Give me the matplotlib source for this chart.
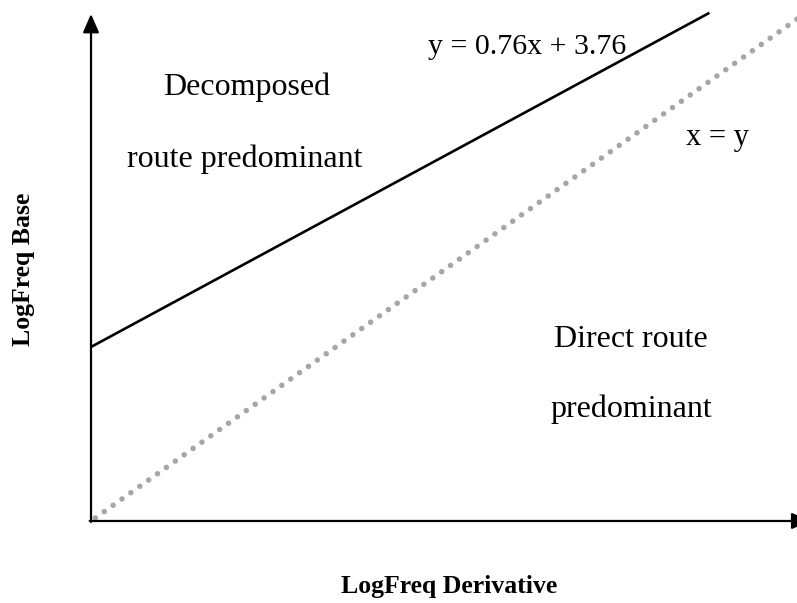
import matplotlib.pyplot as plt

# Lines (data units)
fit_x = [0, 9.5]          # y = 0.76x + 3.76
fit_y = [3.76, 10.98]
diag_x = [0, 10.9]        # x = y
diag_y = [0, 10.9]

x_label = 'LogFreq Derivative'
y_label = 'LogFreq Base'
fit_text = 'y = 0.76x + 3.76'
diag_text = 'x = y'
upper_text = ['Decomposed', 'route predominant']
lower_text = ['Direct route', 'predominant']

W, H = 797, 603
fig = plt.figure(figsize=(W / 100, H / 100), dpi=100)
ax = fig.add_axes([0, 0, 1, 1])
ax.set_xlim(-1.398, 10.845)
ax.set_ylim(-1.772, 11.257)
ax.axis('off')

plt.rcParams['font.family'] = ['Liberation Serif', 'DejaVu Serif']

# x = y dotted line
ax.plot(diag_x, diag_y, color='#a6a6a6', lw=4.0,
        linestyle=(1.0, (0.001, 1.96)), dash_capstyle='round', zorder=2)
# fitted line
ax.plot(fit_x, fit_y, color='black', lw=1.9, solid_capstyle='butt', zorder=3)

# axes with arrow heads
arrow = dict(arrowstyle='-|>,head_length=0.8,head_width=0.35', lw=1.6,
             color='black', mutation_scale=14, shrinkA=0, shrinkB=0)
ax.annotate('', xy=(0, 10.955), xytext=(0, -0.02), arrowprops=arrow,
            annotation_clip=False)
ax.annotate('', xy=(11.05, 0), xytext=(-0.02, 0), arrowprops=arrow,
            annotation_clip=False)


def put(x, y, s, **kw):
    # place text by pixel position in the 797x603 image
    fig.text(x / W, 1 - y / H, s, **kw)


put(527, 54, fit_text, fontsize=21.5, ha='center', va='baseline')
put(718, 145, diag_text, fontsize=22, ha='center', va='baseline')
put(247, 95, upper_text[0], fontsize=23, ha='center', va='baseline')
put(245, 167, upper_text[1], fontsize=23, ha='center', va='baseline')
put(631, 347, lower_text[0], fontsize=23, ha='center', va='baseline')
put(631, 417, lower_text[1], fontsize=23, ha='center', va='baseline')
put(449, 593, x_label, fontsize=18.5, fontweight='bold', ha='center', va='baseline')
put(24, 269, y_label, fontsize=18.5, fontweight='bold', ha='center', va='center',
    rotation=90)

fig.savefig('out.png', dpi=100)
